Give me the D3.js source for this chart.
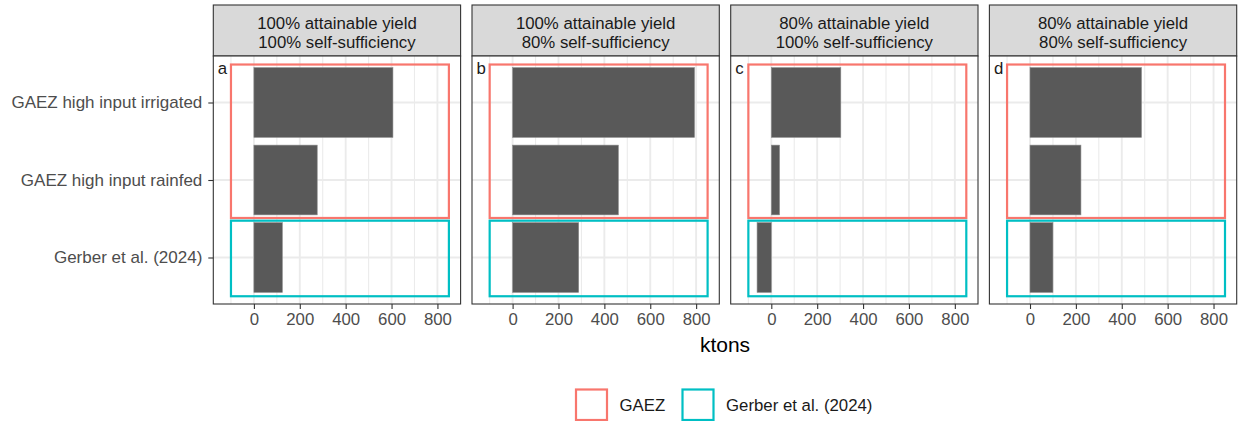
<!DOCTYPE html>
<html>
<head>
<meta charset="utf-8">
<script src="https://cdn.jsdelivr.net/npm/d3@7"></script>
<style>
  html, body { margin: 0; padding: 0; background: #fff; }
  svg { display: block; font-family: "Liberation Sans", Arial, Helvetica, sans-serif; }
</style>
</head>
<body>
<svg id="chart" width="1238" height="421"></svg>
<script>
// ---- data ----
const categories = ["GAEZ high input irrigated", "GAEZ high input rainfed", "Gerber et al. (2024)"];
const panelIds = ["a", "b", "c", "d"];
const panelTitles = [
  ["100% attainable yield", "100% self-sufficiency"],
  ["100% attainable yield", "80% self-sufficiency"],
  ["80% attainable yield", "100% self-sufficiency"],
  ["80% attainable yield", "80% self-sufficiency"]
];
const valuesA = [606, 276, 124];
const valuesB = [793, 461, 288];
const valuesC = [303, 36, -62];
const valuesD = [486, 222, 100];
const panelValues = [valuesA, valuesB, valuesC, valuesD];
const xTicks = [0, 200, 400, 600, 800];
const xMinorTicks = [-100, 100, 300, 500, 700];
const boxGroups = ["GAEZ", "Gerber et al. (2024)"];
const boxCategories = [
  ["GAEZ high input irrigated", "GAEZ high input rainfed"],
  ["Gerber et al. (2024)"]
];
const boxXRange = [-100, 850];
const xDomain = [-177, 901];
const xTitle = "ktons";

// ---- layout ----
const svg = d3.select("#chart");
const panelLeft0 = 213.3, panelW = 247.3, panelGap = 11.4;
const stripTop = 5, panelTop = 56, panelBottom = 304;
const colorScale = d3.scaleOrdinal().domain(boxGroups).range(["#F8766D", "#00BFC4"]);
const y = d3.scalePoint().domain(categories).range([panelTop, panelBottom]).padding(0.6);
const step = y.step();
const fontSize = 16.8;

panelValues.forEach((vals, i) => {
  const x0 = panelLeft0 + i * (panelW + panelGap);
  const x = d3.scaleLinear().domain(xDomain).range([x0, x0 + panelW]);
  const g = svg.append("g");

  // strip
  g.append("rect").attr("x", x0).attr("y", stripTop).attr("width", panelW).attr("height", panelTop - stripTop)
    .attr("fill", "#D9D9D9").attr("stroke", "#333333").attr("stroke-width", 1.1);
  panelTitles[i].forEach((t, k) => {
    g.append("text").attr("x", x0 + panelW / 2).attr("y", 28.5 + k * 19)
      .attr("text-anchor", "middle").attr("font-size", fontSize).attr("fill", "#1A1A1A").text(t);
  });

  // panel background
  g.append("rect").attr("x", x0).attr("y", panelTop).attr("width", panelW).attr("height", panelBottom - panelTop)
    .attr("fill", "#fff");

  // grid
  xMinorTicks.forEach(v => {
    g.append("line").attr("x1", x(v)).attr("x2", x(v)).attr("y1", panelTop).attr("y2", panelBottom)
      .attr("stroke", "#EBEBEB").attr("stroke-width", 1.1);
  });
  xTicks.forEach(v => {
    g.append("line").attr("x1", x(v)).attr("x2", x(v)).attr("y1", panelTop).attr("y2", panelBottom)
      .attr("stroke", "#EBEBEB").attr("stroke-width", 1.9);
  });
  categories.forEach(c => {
    g.append("line").attr("x1", x0).attr("x2", x0 + panelW).attr("y1", y(c)).attr("y2", y(c))
      .attr("stroke", "#EBEBEB").attr("stroke-width", 1.9);
  });

  // bars
  categories.forEach((c, k) => {
    const v = vals[k];
    g.append("rect")
      .attr("x", Math.min(x(0), x(v))).attr("width", Math.abs(x(v) - x(0)))
      .attr("y", y(c) - step * 0.45).attr("height", step * 0.9)
      .attr("fill", "#595959").attr("stroke", "#8a8a8a").attr("stroke-width", 0.6);
  });

  // group boxes
  boxGroups.forEach((grp, k) => {
    const cats = boxCategories[k];
    const top = y(cats[0]) - step * (k === 0 ? 0.49 : 0.475);
    const bot = y(cats[cats.length - 1]) + step * (k === 0 ? 0.49 : 0.5);
    g.append("rect").attr("x", x(boxXRange[0])).attr("width", x(boxXRange[1]) - x(boxXRange[0]))
      .attr("y", top).attr("height", bot - top)
      .attr("fill", "none").attr("stroke", colorScale(grp)).attr("stroke-width", 2.2);
  });

  // panel tag
  g.append("text").attr("x", x0 + 4.5).attr("y", 74).attr("font-size", fontSize).attr("fill", "#1A1A1A")
    .text(panelIds[i]);

  // panel border
  g.append("rect").attr("x", x0).attr("y", panelTop).attr("width", panelW).attr("height", panelBottom - panelTop)
    .attr("fill", "none").attr("stroke", "#333333").attr("stroke-width", 1.1);

  // x axis
  const ax = g.append("g").attr("transform", `translate(0,${panelBottom})`)
    .call(d3.axisBottom(x).tickValues(xTicks).tickSize(5).tickPadding(4).tickFormat(d3.format("d")));
  ax.select(".domain").remove();
  ax.selectAll(".tick line").attr("stroke", "#333333").attr("stroke-width", 1.1);
  ax.selectAll(".tick text").attr("font-size", fontSize).attr("fill", "#4D4D4D")
    .attr("font-family", "Liberation Sans, Arial, sans-serif");

  // y axis on first panel
  if (i === 0) {
    const ay = g.append("g").attr("transform", `translate(${x0},0)`)
      .call(d3.axisLeft(y).tickSize(5).tickPadding(6));
    ay.select(".domain").remove();
    ay.selectAll(".tick line").attr("stroke", "#333333").attr("stroke-width", 1.1);
    ay.selectAll(".tick text").attr("font-size", 17).attr("fill", "#4D4D4D")
      .attr("font-family", "Liberation Sans, Arial, sans-serif");
  }
});

// x title
const totalLeft = panelLeft0, totalRight = panelLeft0 + 4 * panelW + 3 * panelGap;
svg.append("text").attr("x", (totalLeft + totalRight) / 2).attr("y", 351.5)
  .attr("text-anchor", "middle").attr("font-size", 21).attr("fill", "#000").text(xTitle);

// legend
const legendItems = [
  { key: boxGroups[0], x: 576, tx: 619.5 },
  { key: boxGroups[1], x: 682.5, tx: 726 }
];
legendItems.forEach(it => {
  svg.append("rect").attr("x", it.x).attr("y", 389.5).attr("width", 31).attr("height", 30.5)
    .attr("fill", "#fff").attr("stroke", colorScale(it.key)).attr("stroke-width", 2.2);
  svg.append("text").attr("x", it.tx).attr("y", 411).attr("font-size", fontSize).attr("fill", "#1A1A1A").text(it.key);
});
</script>
</body>
</html>
